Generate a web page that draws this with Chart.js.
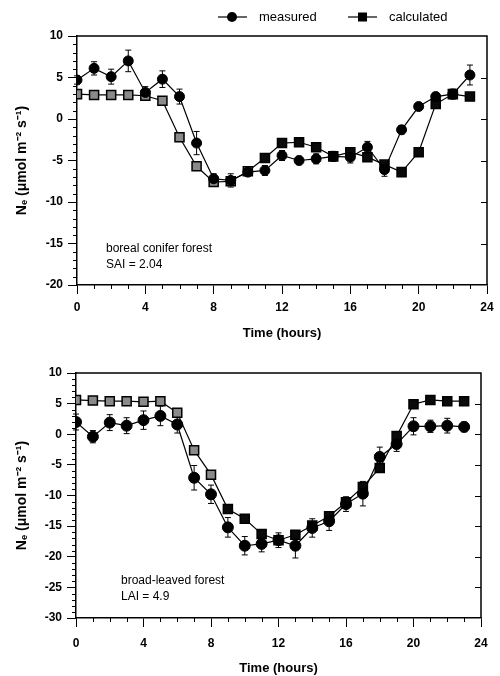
<!DOCTYPE html>
<html>
<head>
<meta charset="utf-8">
<script src="https://cdn.jsdelivr.net/npm/chart.js@4"></script>
<style>
  html, body { margin: 0; padding: 0; background: #fff; }
  #wrap { position: relative; width: 500px; height: 676px; overflow: hidden; }
  canvas { position: absolute; left: 0; }
  #c1 { top: 0; }
  #c2 { top: 345px; }
</style>
</head>
<body>
<div id="wrap">
  <canvas id="c1" width="500" height="345"></canvas>
  <canvas id="c2" width="500" height="331"></canvas>
</div>
<script>
// ---------- data ----------
const hours = [0,1,2,3,4,5,6,7,8,9,10,11,12,13,14,15,16,17,18,19,20,21,22,23];
const xTickLabels = [0,4,8,12,16,20,24];
const seriesNames = ['measured', 'calculated'];

const borealMeasured   = [4.7, 6.1, 5.1, 7.0, 3.2, 4.8, 2.7, -2.9, -7.2, -7.4, -6.4, -6.2, -4.4, -5.0, -4.8, -4.5, -4.6, -3.4, -6.1, -1.3, 1.5, 2.7, 3.0, 5.3];
const borealMeasuredErr= [0.5, 0.8, 0.9, 1.3, 0.7, 1.0, 0.9, 1.4, 0.6, 0.8, 0.4, 0.6, 0.6, 0.5, 0.6, 0.6, 0.7, 0.7, 0.8, 0.5, 0.4, 0.5, 0.6, 1.2];
const borealCalculated = [3.0, 2.9, 2.9, 2.9, 2.8, 2.2, -2.2, -5.7, -7.6, -7.5, -6.3, -4.7, -2.9, -2.8, -3.4, -4.5, -4.0, -4.6, -5.5, -6.4, -4.0, 1.8, 3.0, 2.7];

const broadMeasured    = [2.0, -0.4, 1.9, 1.4, 2.3, 3.0, 1.6, -7.1, -9.8, -15.2, -18.2, -17.9, -17.3, -18.2, -15.3, -14.2, -11.4, -9.7, -3.7, -1.6, 1.3, 1.3, 1.4, 1.2];
const broadMeasuredErr = [1.3, 1.0, 1.3, 1.3, 1.5, 1.6, 1.4, 2.0, 1.5, 1.6, 1.5, 1.3, 1.2, 2.0, 1.5, 1.5, 1.2, 2.0, 1.6, 1.2, 1.4, 1.0, 1.2, 0.8];
const broadCalculated  = [5.6, 5.5, 5.4, 5.4, 5.3, 5.4, 3.5, -2.6, -6.6, -12.2, -13.8, -16.3, -17.3, -16.4, -14.9, -13.4, -11.1, -8.6, -5.5, -0.3, 4.9, 5.6, 5.4, 5.4];

const yTitle = 'N\u2091 (\u03bcmol m\u207b\u00b2 s\u207b\u00b9)';
const xTitle = 'Time (hours)';

// ---------- helpers ----------
const FONT = '"Liberation Sans", Arial, Helvetica, sans-serif';

function toXY(ys) { return hours.map((h, i) => ({ x: h, y: ys[i] })); }

const errorBarPlugin = {
  id: 'errorBars',
  beforeDatasetsDraw(chart, args, opts) {
    const errs = opts.errors;
    if (!errs) return;
    const { ctx } = chart;
    const xs = chart.scales.x, ys = chart.scales.y;
    const data = chart.data.datasets[0].data;
    ctx.save();
    ctx.strokeStyle = '#000';
    ctx.lineWidth = 1;
    data.forEach((p, i) => {
      const px = xs.getPixelForValue(p.x);
      const y1 = ys.getPixelForValue(p.y + errs[i]);
      const y2 = ys.getPixelForValue(p.y - errs[i]);
      ctx.beginPath();
      ctx.moveTo(px, y1); ctx.lineTo(px, y2);
      ctx.moveTo(px - 3, y1); ctx.lineTo(px + 3, y1);
      ctx.moveTo(px - 3, y2); ctx.lineTo(px + 3, y2);
      ctx.stroke();
    });
    ctx.restore();
  }
};

const framePlugin = {
  id: 'frame',
  afterDraw(chart, args, opts) {
    const { ctx, chartArea: a } = chart;
    const xs = chart.scales.x, ys = chart.scales.y;
    ctx.save();
    ctx.strokeStyle = '#000';
    ctx.lineWidth = 1.5;
    ctx.beginPath();
    ctx.moveTo(a.left, a.top); ctx.lineTo(a.right, a.top); ctx.lineTo(a.right, a.bottom);
    ctx.stroke();
    ctx.lineWidth = 1;
    ctx.beginPath();
    for (let v = ys.min; v <= ys.max; v += 1) {
      if (v % 5 === 0) continue;
      const py = Math.round(ys.getPixelForValue(v)) + 0.5;
      ctx.moveTo(a.left - 4, py); ctx.lineTo(a.left, py);
    }
    for (let v = ys.min + 5; v < ys.max; v += 5) {
      const py = Math.round(ys.getPixelForValue(v)) + 0.5;
      ctx.moveTo(a.right - 6, py); ctx.lineTo(a.right, py);
    }
    for (let h = xs.min; h <= xs.max; h += 1) {
      if (h % 4 === 0) continue;
      const px = Math.round(xs.getPixelForValue(h)) + 0.5;
      ctx.moveTo(px, a.bottom); ctx.lineTo(px, a.bottom + 4);
    }
    ctx.stroke();
    if (opts.lines) {
      ctx.fillStyle = '#000';
      ctx.font = '12px ' + FONT;
      ctx.textBaseline = 'middle';
      ctx.textAlign = 'left';
      opts.lines.forEach((t, i) => ctx.fillText(t, a.left + opts.dx, a.bottom - opts.dy + i * 16));
    }
    if (opts.legend) {
      const ly = 17;
      ctx.lineWidth = 1.2;
      ctx.fillStyle = '#000';
      ctx.beginPath(); ctx.moveTo(218, ly); ctx.lineTo(247, ly); ctx.stroke();
      ctx.beginPath(); ctx.arc(232, ly, 5, 0, Math.PI * 2); ctx.fill();
      ctx.beginPath(); ctx.moveTo(348, ly); ctx.lineTo(377, ly); ctx.stroke();
      ctx.fillRect(358, ly - 4.5, 9, 9);
      ctx.font = '13px ' + FONT;
      ctx.textBaseline = 'middle';
      ctx.textAlign = 'left';
      ctx.fillText(seriesNames[0], 259, ly);
      ctx.fillText(seriesNames[1], 389, ly);
    }
    ctx.restore();
  }
};

function build(canvasId, meas, calc, err, yMin, grayUntil, geom, notes, showLegend) {
  return new Chart(document.getElementById(canvasId), {
    type: 'line',
    data: {
      datasets: [
        {
          label: seriesNames[0],
          data: toXY(meas),
          borderColor: '#000',
          borderWidth: 1.2,
          pointStyle: 'circle',
          pointRadius: geom.circleR,
          pointBackgroundColor: '#000',
          pointBorderColor: '#000',
          pointBorderWidth: 1,
          tension: 0,
          order: 1
        },
        {
          label: seriesNames[1],
          data: toXY(calc),
          borderColor: '#000',
          borderWidth: 1.2,
          pointStyle: 'rect',
          pointRadius: 6.4,
          pointBackgroundColor: (c) => c.dataIndex <= grayUntil ? '#8a8a8a' : '#0a0a0a',
          pointBorderColor: '#000',
          pointBorderWidth: 1.5,
          tension: 0,
          order: 2
        }
      ]
    },
    options: {
      responsive: false,
      animation: false,
      events: [],
      layout: { padding: { left: 0, right: geom.padRight, top: geom.padTop, bottom: 0 } },
      plugins: {
        legend: { display: false },
        tooltip: { enabled: false },
        errorBars: { errors: err },
        frame: { lines: notes, dx: geom.noteDx, dy: geom.noteDy, legend: showLegend }
      },
      scales: {
        x: {
          type: 'linear',
          min: 0, max: 24,
          afterFit: (s) => { s.height = geom.xHeight; },
          afterBuildTicks: (s) => { s.ticks = xTickLabels.map(v => ({ value: v })); },
          grid: { drawOnChartArea: false, tickLength: 9, color: '#000', tickWidth: 1 },
          border: { display: true, color: '#000', width: 1.5 },
          ticks: { color: '#000', padding: geom.xPad, maxRotation: 0, font: { family: FONT, size: 12, weight: 'bold' } },
          title: { display: true, text: xTitle, color: '#000', padding: { top: 0, bottom: geom.xTitlePad }, font: { family: FONT, size: 13, weight: 'bold' } }
        },
        y: {
          type: 'linear',
          min: yMin, max: 10,
          afterFit: (s) => { s.width = geom.yWidth; },
          ticks: { stepSize: 5, color: '#000', padding: 5, font: { family: FONT, size: 12, weight: 'bold' } },
          grid: { drawOnChartArea: false, tickLength: 9, color: '#000', tickWidth: 1 },
          border: { display: true, color: '#000', width: 1.5 },
          title: { display: true, text: yTitle, color: '#000', padding: { top: 14, bottom: 0 }, font: { family: FONT, size: 14, weight: 'bold' } }
        }
      }
    },
    plugins: [errorBarPlugin, framePlugin]
  });
}

build('c1', borealMeasured, borealCalculated, borealMeasuredErr, -20, 10,
  { circleR: 5, padRight: 13, padTop: 36, xHeight: 60, yWidth: 77, xPad: 6, xTitlePad: 4, noteDx: 29, noteDy: 36 },
  ['boreal conifer forest', 'SAI = 2.04'], true);

build('c2', broadMeasured, broadCalculated, broadMeasuredErr, -30, 8,
  { circleR: 5.5, padRight: 19, padTop: 28, xHeight: 58, yWidth: 76, xPad: 9, xTitlePad: 0, noteDx: 45, noteDy: 37 },
  ['broad-leaved forest', 'LAI = 4.9'], false);
</script>
</body>
</html>
